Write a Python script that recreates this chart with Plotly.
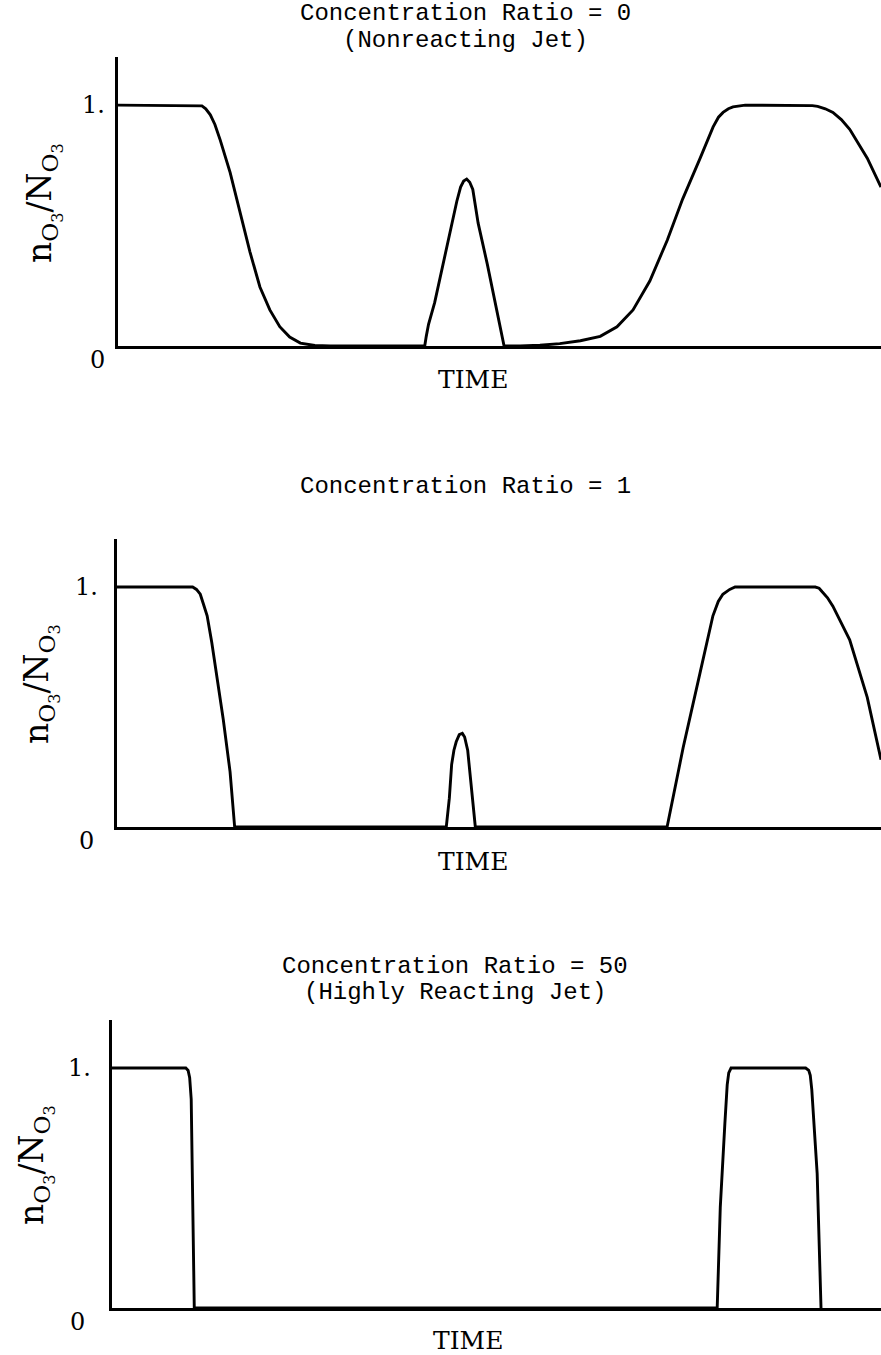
import plotly.graph_objects as go

# ---- data (time in arbitrary units 0..100 across each panel) ----
t1 = [0, 10.5, 11.0, 11.5, 12.1, 12.7, 13.4, 14.7, 16.0, 17.3, 18.6, 19.9, 21.2, 22.5, 23.9, 25.8, 27.8,
      40.2, 40.4, 40.7, 41.5, 42.6, 43.8, 44.4, 44.9, 45.3, 45.7, 46.1, 46.5, 47.2, 48.4, 49.4, 50.0, 50.3, 50.5, 50.6,
      52.7, 55.3, 57.9, 60.6, 63.2, 65.4, 67.5, 69.7, 72.0, 74.0, 76.3, 77.2, 78.0, 78.7, 79.3, 80.0, 80.6, 82.2,
      90.0, 91.0, 91.7, 92.7, 93.7, 94.8, 95.9, 97.0, 98.2, 100]
y1 = [1, 1, 0.997, 0.985, 0.96, 0.92, 0.855, 0.72, 0.55, 0.39, 0.245, 0.15, 0.08, 0.037, 0.012, 0.002, 0,
      0, 0.04, 0.09, 0.18, 0.34, 0.51, 0.60, 0.66, 0.685, 0.693, 0.68, 0.65, 0.51, 0.34, 0.18, 0.10, 0.05, 0.015, 0,
      0, 0.003, 0.01, 0.022, 0.04, 0.08, 0.15, 0.27, 0.44, 0.61, 0.78, 0.85, 0.91, 0.95, 0.97, 0.985, 0.993, 1.0,
      1.0, 0.998, 0.995, 0.985, 0.97, 0.94, 0.90, 0.845, 0.78, 0.66]

t2 = [0, 9.9, 10.4, 10.9, 11.3, 11.8, 12.4, 13.1, 13.9, 14.8, 15.4,
      43.1, 43.3, 43.5, 43.8, 44.1, 44.4, 44.8, 45.2, 45.5, 45.9, 46.3, 46.7, 46.9,
      72.0, 74.1, 76.3, 77.3, 78.0, 78.7, 79.3, 80.2, 80.9,
      91.4, 91.9, 92.3, 93.0, 93.7, 95.9, 98.2, 100]
y2 = [1, 1, 0.99, 0.97, 0.93, 0.88, 0.77, 0.63, 0.45, 0.23, 0,
      0, 0.06, 0.12, 0.26, 0.32, 0.355, 0.385, 0.39, 0.375, 0.32, 0.2, 0.06, 0,
      0, 0.33, 0.64, 0.78, 0.88, 0.94, 0.97, 0.99, 1.0,
      1.0, 0.995, 0.98, 0.955, 0.92, 0.78, 0.54, 0.28]

t3 = [0, 9.6, 9.9, 10.1, 10.3, 10.5, 10.6, 10.7,
      78.7, 79.1, 79.7, 80.0, 80.2, 80.5,
      90.2, 90.6, 90.8, 91.0, 91.7, 92.1, 92.2]
y3 = [1, 1, 0.99, 0.96, 0.87, 0.31, 0.05, 0,
      0, 0.42, 0.77, 0.93, 0.98, 1.0,
      1.0, 0.99, 0.97, 0.91, 0.56, 0.15, 0]

titles = ["Concentration Ratio = 0<br>(Nonreacting Jet)",
          "Concentration Ratio = 1",
          "Concentration Ratio = 50<br>(Highly Reacting Jet)"]
tick_vals = [0, 1]
tick_text = ["0", "1."]
x_title = "TIME"
y_title = "n<sub>O<sub>3</sub></sub>/N<sub>O<sub>3</sub></sub>"

W, H = 881, 1355

def fx(px):
    return px / W

def fy(py):
    return 1 - py / H

# panel geometry (pixels)
panels = [
    dict(x0=118, top=57, bottom=346, title_y=14, time_x=473, time_y=380,
         ylab_x=44, ylab_y=203, one_x=107, zero_x=97, title_x=465),
    dict(x0=117, top=539, bottom=827, title_y=486, time_x=473, time_y=861,
         ylab_x=40, ylab_y=684, one_x=100, zero_x=86, title_x=465),
    dict(x0=112, top=1020, bottom=1308, title_y=966, time_x=468, time_y=1340,
         ylab_x=35, ylab_y=1165, one_x=93, zero_x=77, title_x=455),
]

series = [(t1, y1), (t2, y2), (t3, y3)]

fig = go.Figure()
annotations = []
layout = dict(width=W, height=H, margin=dict(l=0, r=0, t=0, b=0),
              paper_bgcolor="white", plot_bgcolor="white", showlegend=False)

title_font = dict(family="Liberation Mono", size=24, color="black")
label_font = dict(family="DejaVu Serif", size=24, color="black")
line_gap = 26

for i, (p, (tx, ty)) in enumerate(zip(panels, series)):
    k = "" if i == 0 else str(i + 1)
    fig.add_trace(go.Scatter(x=tx, y=ty, mode="lines",
                             line=dict(color="black", width=2.9, shape="linear"),
                             xaxis="x" + k, yaxis="y" + k, hoverinfo="skip"))
    layout["xaxis" + k] = dict(domain=[fx(p["x0"]), 1], range=[0, 100],
                               anchor="y" + k, showline=True, linecolor="black",
                               linewidth=2.8, showgrid=False, zeroline=False,
                               showticklabels=False, ticks="")
    layout["yaxis" + k] = dict(domain=[fy(p["bottom"]), fy(p["top"])], range=[0, 1.2],
                               anchor="x" + k, showline=True, linecolor="black",
                               linewidth=2.8, showgrid=False, zeroline=False,
                               showticklabels=False, ticks="")
    # title (one annotation per line for tighter line spacing)
    for j, line in enumerate(titles[i].split("<br>")):
        annotations.append(dict(text=line, x=fx(p["title_x"]),
                                y=fy(p["title_y"] + j * line_gap),
                                xref="paper", yref="paper", showarrow=False,
                                xanchor="center", yanchor="middle", font=title_font))
    # x title
    annotations.append(dict(text=x_title, x=fx(p["time_x"]), y=fy(p["time_y"]),
                            xref="paper", yref="paper", showarrow=False,
                            xanchor="center", yanchor="middle",
                            font=dict(family="DejaVu Serif", size=25, color="black")))
    # y title
    annotations.append(dict(text=y_title, x=fx(p["ylab_x"]), y=fy(p["ylab_y"]),
                            xref="paper", yref="paper", showarrow=False, textangle=-90,
                            xanchor="center", yanchor="middle",
                            font=dict(family="DejaVu Serif", size=33, color="black")))
    # tick labels
    for v, txt in zip(tick_vals, tick_text):
        if v == 1:
            annotations.append(dict(text=txt, x=fx(p["one_x"]), y=v, xref="paper",
                                    yref="y" + k, showarrow=False, xanchor="right",
                                    yanchor="middle", font=label_font))
        else:
            annotations.append(dict(text=txt, x=fx(p["zero_x"]), y=v, xref="paper",
                                    yref="y" + k, showarrow=False, xanchor="center",
                                    yanchor="middle", yshift=-14, font=label_font))

layout["annotations"] = annotations
fig.update_layout(**layout)
fig.write_html("out.html")
